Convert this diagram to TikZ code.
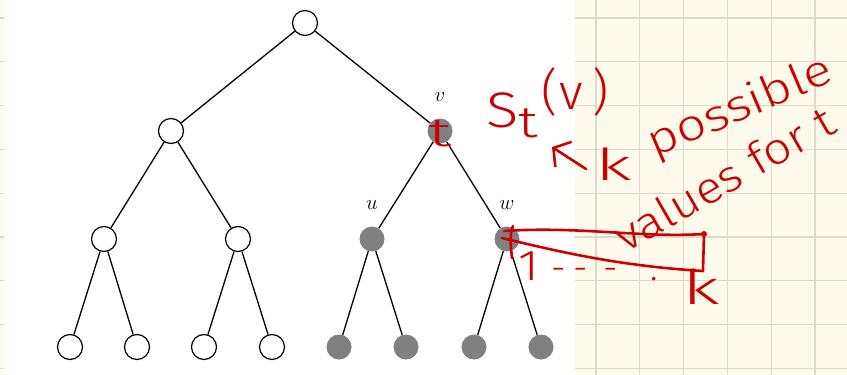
\documentclass[tikz,border=0pt]{standalone}
\usepackage{fontspec}
\newfontfamily\hand{Fira Sans Light}
\usetikzlibrary{arrows.meta}
\definecolor{paper}{RGB}{254,251,237}
\definecolor{gridline}{RGB}{221,217,203}
\definecolor{inkred}{RGB}{204,0,0}
\definecolor{nodegray}{RGB}{128,128,128}
\begin{document}
\begin{tikzpicture}[x=1pt,y=-1pt,
  vtx/.style={circle,draw,line width=1.2pt,minimum size=25pt,inner sep=0pt,fill=white},
  full/.style={circle,fill=nodegray,minimum size=25pt,inner sep=0pt},
  edge/.style={line width=1.3pt},
  lbl/.style={inner sep=0pt,font=\fontsize{20}{20}\selectfont},
  ink/.style={draw=inkred,line width=2.6pt,line cap=round,line join=round},
  inktext/.style={text=inkred,inner sep=0pt},
]
\useasboundingbox (0,0) rectangle (847,375);
% paper: white sheet with a ruled notebook strip on the right and a sliver on the left
\fill[white] (0,0) rectangle (847,375);
\fill[paper] (575,0) rectangle (847,375);
\fill[paper] (0,0) rectangle (4,375);
\foreach \k in {0,...,8} {
  \draw[gridline,line width=1.3pt] (575,18+43.8*\k) -- (847,18+43.8*\k);
  \draw[gridline,line width=1.3pt] (0,18+43.8*\k) -- (4,18+43.8*\k);
}
\foreach \k in {0,...,5}
  \draw[gridline,line width=1.3pt] (596+43.8*\k,0) -- (596+43.8*\k,375);

% binary tree
\node[vtx]  (r)   at (305,23) {};
\node[vtx]  (a)   at (171,131) {};
\node[full] (v)   at (440,131) {};
\node[vtx]  (a1)  at (104,239) {};
\node[vtx]  (a2)  at (238,239) {};
\node[full] (u)   at (372,239) {};
\node[full] (w)   at (507,239) {};
\node[vtx]  (l1)  at (70,347) {};
\node[vtx]  (l2)  at (137,347) {};
\node[vtx]  (l3)  at (204,347) {};
\node[vtx]  (l4)  at (272,347) {};
\node[full] (l5)  at (339,347) {};
\node[full] (l6)  at (406,347) {};
\node[full] (l7)  at (474,347) {};
\node[full] (l8)  at (541,347) {};
\foreach \p/\c in {r/a,r/v,a/a1,a/a2,v/u,v/w,a1/l1,a1/l2,a2/l3,a2/l4,u/l5,u/l6,w/l7,w/l8}
  \draw[edge] (\p) -- (\c);

\node[lbl] (lv) at (440,97)  {$v$};
\node[lbl] (lu) at (372,205) {$u$};
\node[lbl] (lw) at (507,205) {$w$};

% handwritten notes in red
\node[inktext,font=\hand\fontsize{40}{40}\selectfont] (tv) at (440,134) {\scalebox{1.7}[1]{t}};
\node[inktext,anchor=base west,font=\hand\fontsize{50}{50}\selectfont] (St) at (486,127)
  {\scalebox{1.2}[1]{S}\raisebox{-10pt}{\fontsize{44}{44}\selectfont\scalebox{1.3}[1]{t}}%
   \hspace{3pt}\raisebox{18pt}{(\hspace{2pt}v\hspace{10pt})}};
\node[inktext,anchor=base west,font=\hand\fontsize{44}{44}\selectfont] (kk) at (595,180)
  {\scalebox{1.7}[1]{k}};
\node[inktext,anchor=base west,rotate=23,font=\hand\fontsize{44}{44}\selectfont] (pos) at (654,158)
  {\scalebox{1.2}[1]{possible}};
\node[inktext,anchor=base west,rotate=30,font=\hand\fontsize{44}{44}\selectfont] (val) at (625,254)
  {\scalebox{1.12}[1]{values for t}};
\coordinate (arS) at (586,169);
\coordinate (arE) at (552,147);
\draw[ink,-{Straight Barb[length=12pt,width=30pt,line width=2.6pt]}] (arS) -- (arE);

% range of t drawn out from w
\coordinate (bt0) at (504,231);
\coordinate (bt1) at (704,234);
\coordinate (bb1) at (703,271);
\coordinate (bb0) at (502,238);
\draw[ink] (bt0) .. controls (580,226) and (640,238) .. (bt1) -- (bb1)
  .. controls (620,266) and (560,252) .. (bb0);
\fill[inkred] (bt1) circle (3pt);
\draw[ink] (513,226) .. controls (509,236) and (511,248) .. (512,258);
\node[inktext,anchor=base west,font=\hand\fontsize{36}{36}\selectfont] (one) at (518,280)
  {\scalebox{1.4}[1.2]{1}\hspace{12pt}-\hspace{8pt}-\hspace{16pt}-\hspace{32pt}.};
\node[inktext,anchor=base west,font=\hand\fontsize{48}{48}\selectfont] (kb) at (682,304)
  {\scalebox{1.6}[1]{k}};
\end{tikzpicture}
\end{document}
